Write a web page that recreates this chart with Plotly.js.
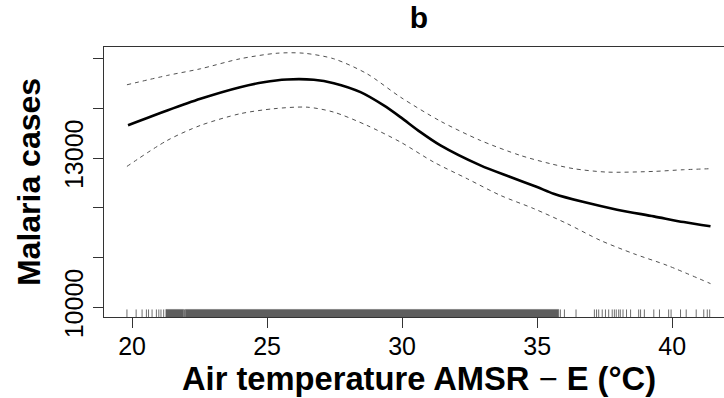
<!DOCTYPE html>
<html><head><meta charset="utf-8">
<script src="https://cdn.plot.ly/plotly-3.0.1.min.js"></script>
<style>html,body{margin:0;padding:0;overflow:hidden;background:#fff;width:724px;height:398px}</style>
</head><body><div id="chart"></div>
<script>
// Fitted smooth (mean) and 95% bands
const meanX = [19.85, 21.3, 22.53, 24.0, 24.87, 25.74, 26.73, 27.47, 28.46, 29.32, 29.94, 30.68, 31.42, 32.9, 34.01, 35.0, 35.61, 36.73, 37.96, 39.32, 40.43, 41.42];
const meanY = [13660, 13956, 14191, 14424, 14524, 14578, 14572, 14504, 14323, 14056, 13821, 13520, 13253, 12851, 12617, 12416, 12283, 12114, 11962, 11827, 11713, 11627];
const upperX = [19.81, 21.3, 22.53, 24.0, 25.37, 26.36, 27.47, 28.7, 29.94, 31.42, 32.9, 34.38, 35.49, 36.36, 37.59, 39.32, 40.43, 41.42];
const upperY = [14472, 14659, 14793, 14994, 15106, 15106, 14994, 14693, 14223, 13740, 13353, 13052, 12886, 12785, 12717, 12731, 12765, 12785];
const lowerX = [19.81, 21.3, 22.53, 24.0, 25.24, 26.48, 27.47, 28.7, 29.94, 31.17, 32.41, 33.64, 34.88, 36.11, 37.34, 38.57, 39.81, 41.42];
const lowerY = [12831, 13353, 13655, 13890, 13990, 14022, 13922, 13655, 13320, 12918, 12584, 12249, 11982, 11681, 11345, 11078, 10843, 10476];
// Rug: isolated observations and densely-packed stretches
const rugTicks = [19.81, 20.15, 20.37, 20.53, 20.61, 20.74, 20.90, 20.99, 21.07, 21.17, 21.94,
  35.86, 36.01, 36.44, 37.12, 37.20, 37.28, 37.41, 37.53, 37.65, 37.78, 37.86, 37.93, 38.02, 38.08, 38.18, 38.31,
  38.46, 38.76, 38.83, 38.97, 39.32, 39.53, 39.87, 39.96, 40.31, 40.52, 40.89, 41.17, 41.30, 41.39];
const rugBlockStart = [21.25, 21.97];
const rugBlockEnd = [21.91, 35.80];
// Axes
const xTickVals = [20, 25, 30, 35, 40];
const xTickText = ['20', '25', '30', '35', '40'];
const yTickVals = [10000, 11000, 12000, 13000, 14000, 15000];
const yTickText = ['10000', '', '', '13000', '', ''];
const xRange = [18.96, 42.29];
const yRange = [9805, 15231];

const FONT = 'Liberation Sans, Arial, sans-serif';
const rugTop = yRange[0] + 0.028 * (yRange[1] - yRange[0]);

const rx = [], ry = [];
rugTicks.forEach(v => { rx.push(v, v, null); ry.push(yRange[0], rugTop, null); });
const bx = [], by = [];
rugBlockStart.forEach((s, i) => {
  const e = rugBlockEnd[i];
  bx.push(s, e, e, s, s, null); by.push(yRange[0], yRange[0], rugTop, rugTop, yRange[0], null);
});

const traces = [
  {x: bx, y: by, mode: 'lines', fill: 'toself', fillcolor: '#5e5e5e', line: {color: '#5e5e5e', width: 0.5}, hoverinfo: 'skip', showlegend: false},
  {x: rx, y: ry, mode: 'lines', line: {color: '#6e6e6e', width: 1}, hoverinfo: 'skip', showlegend: false},
  {x: upperX, y: upperY, mode: 'lines', line: {color: '#505050', width: 1, dash: '4px,4px', shape: 'spline', smoothing: 0.8}, showlegend: false},
  {x: lowerX, y: lowerY, mode: 'lines', line: {color: '#505050', width: 1, dash: '4px,4px', shape: 'spline', smoothing: 0.8}, showlegend: false},
  {x: meanX, y: meanY, mode: 'lines', line: {color: '#000', width: 2.6, shape: 'spline', smoothing: 0.8}, showlegend: false}
];

const layout = {
  width: 760, height: 398,
  margin: {l: 104, r: 26, t: 47, b: 81},
  paper_bgcolor: '#fff', plot_bgcolor: '#fff',
  font: {family: FONT, color: '#000'},
  title: {text: 'b', font: {family: FONT, size: 30, weight: 'bold', color: '#000'}, x: 0.5, xref: 'paper', y: 0.982, yref: 'container', yanchor: 'top'},
  xaxis: {
    range: xRange, autorange: false, showgrid: false, zeroline: false,
    showline: true, mirror: true, linecolor: '#333', linewidth: 1,
    ticks: 'outside', ticklen: 10, tickwidth: 1, tickcolor: '#333', ticklabelstandoff: -3,
    tickvals: xTickVals, ticktext: xTickText, tickfont: {family: FONT, size: 25, color: '#000'},
    title: {text: 'Air temperature AMSR <span style="font-weight:normal">\u2212</span> E (\u00B0C)', font: {family: FONT, size: 32.7, weight: 'bold', color: '#000'}, standoff: 1}
  },
  yaxis: {
    range: yRange, autorange: false, showgrid: false, zeroline: false,
    showline: true, mirror: true, linecolor: '#333', linewidth: 1,
    ticks: 'outside', ticklen: 10, tickwidth: 1, tickcolor: '#333',
    tickvals: yTickVals, ticktext: yTickText, tickangle: -90, tickfont: {family: FONT, size: 25, color: '#000'},
    title: {text: 'Malaria cases', font: {family: FONT, size: 32, weight: 'bold', color: '#000'}, standoff: 9}
  }
};

Plotly.newPlot('chart', traces, layout, {staticPlot: true, displayModeBar: false});
</script>
</body></html>
